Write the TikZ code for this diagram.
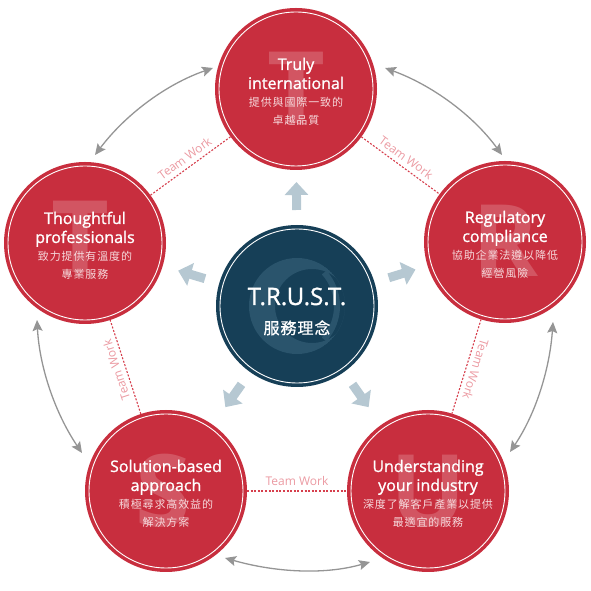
\documentclass[tikz,border=0pt]{standalone}
\usepackage{fontspec}
\setmainfont{Open Sans}
\newfontfamily\semib[FakeBold=1.2]{Open Sans}
\newfontfamily\cjk[LetterSpace=8]{Noto Sans CJK TC}
\newfontfamily\cjkhub[LetterSpace=6,FakeBold=0.8]{Noto Sans CJK TC}
\usetikzlibrary{arrows.meta,calc}
\definecolor{tred}{HTML}{C82E3E}
\definecolor{tblue}{HTML}{163F57}
\definecolor{logoblue}{HTML}{2A546C}
\definecolor{arrowblue}{HTML}{B6C8D2}
\definecolor{arrowgray}{HTML}{959595}
\definecolor{dashred}{HTML}{D63F4D}
\definecolor{pinklbl}{HTML}{EB9AA2}
\definecolor{cnwhite}{HTML}{F6D9DC}
\newcommand\bubbletext[5]{%
  \node[entext, anchor=base] (#1a) at ($(#1)+(0,19)$) {#2};
  \node[entext, anchor=base] (#1b) at ($(#1)+(0,0)$) {#3};
  \node[cntext, anchor=base] (#1c) at ($(#1)+(0,-18)$) {#4};
  \node[cntext, anchor=base] (#1d) at ($(#1)+(0,-36)$) {#5};
}
\begin{document}
\begin{tikzpicture}[x=1pt,y=1pt,
  bubble/.style={circle, fill=tred, minimum size=162pt, inner sep=0pt, outer sep=0pt},
  hubstyle/.style={circle, fill=tblue, minimum size=162pt, inner sep=0pt, outer sep=0pt},
  ringline/.style={draw=white, line width=0.9pt},
  entext/.style={text=white, font=\semib\fontsize{16}{18}\selectfont, inner sep=0pt},
  cntext/.style={text=cnwhite, font=\cjk\fontsize{11}{13}\selectfont, inner sep=0pt},
  watermark/.style={text=white, text opacity=0.19, font=\bfseries\fontsize{100}{100}\selectfont, inner sep=0pt},
  teamline/.style={draw=dashred, line width=1.1pt, dash pattern=on 2pt off 1.6pt},
  teamlabel/.style={text=pinklbl, font=\fontsize{12}{13}\selectfont, sloped, allow upside down, above, midway, inner sep=4.5pt},
  grayarrow/.style={draw=arrowgray, line width=1.3pt, {Stealth[length=11pt,width=10pt,inset=2pt]}-{Stealth[length=11pt,width=10pt,inset=2pt]}, looseness=0.87},
  bluearrow/.style={draw=arrowblue, line width=9pt, -{Triangle[length=13pt,width=23pt]}}
]
\useasboundingbox (0,0) rectangle (590,591);

% circles
\node[bubble] (nT) at (296,502) {};
\node[bubble] (nL) at (85,348) {};
\node[bubble] (nR) at (505,349) {};
\node[bubble] (nU) at (428,100) {};
\node[bubble] (nS) at (166,100) {};
\node[hubstyle] (hub) at (297,285) {};

\foreach \n in {nT,nL,nR,nU,nS,hub}{
  \draw[ringline] (\n) circle[radius=77];
}

% hub logo
\begin{scope}
  \clip (hub) circle[radius=48];
  \fill[logoblue, even odd rule] (hub) circle[radius=48] ($(hub)+(15,0)$) circle[radius=37];
\end{scope}
\draw[logoblue, line width=6pt] ($(hub)+(-10,0)+(-42:50)$) arc[start angle=-42, end angle=42, radius=50];

% watermark letters
\node[watermark] (wT) at ($(nT)+(0,1)$) {T};
\node[watermark] (wL) at ($(nL)+(-5,6)$) {T};
\node[watermark] (wR) at ($(nR)+(0,1)$) {R};
\node[watermark] (wU) at ($(nU)+(0,0)$) {U};
\node[watermark] (wS) at ($(nS)+(-3,0)$) {S};

% texts
\bubbletext{nT}{Truly}{international}{提供與國際一致的}{卓越品質}
\bubbletext{nL}{Thoughtful}{professionals}{致力提供有溫度的}{專業服務}
\bubbletext{nR}{Regulatory}{compliance}{協助企業法遵以降低}{經營風險}
\bubbletext{nU}{Understanding}{your industry}{深度了解客戶產業以提供}{最適宜的服務}
\bubbletext{nS}{Solution-based}{approach}{積極尋求高效益的}{解決方案}

\node[text=white, font=\semib\fontsize{24}{26}\selectfont, anchor=base, inner sep=0pt] (hubA) at ($(hub)+(0,1)$) {T.R.U.S.T.};
\node[text=white, font=\cjkhub\fontsize{16}{18}\selectfont, anchor=base, inner sep=0pt] (hubB) at ($(hub)+(0,-28)$) {服務理念};

% blue arrows from hub
\foreach \n in {nT,nL,nR,nU,nS}{
  \draw[bluearrow] ($(hub)!96pt!(\n)$) -- ($(hub)!124pt!(\n)$);
}

% team work lines
\draw[teamline] (nL) -- node[teamlabel] {Team Work} (nT);
\draw[teamline] (nT) -- node[teamlabel] {Team Work} (nR);
\draw[teamline] (nR) -- node[teamlabel] {Team Work} (nU);
\draw[teamline] (nS) -- node[teamlabel] {Team Work} (nU);
\draw[teamline] (nS) -- node[teamlabel] {Team Work} (nL);

% gray curved arrows
\coordinate (a1s) at ($(nT)+(-83,21)$);
\coordinate (a1e) at ($(nL)+(10,88)$);
\coordinate (a2s) at ($(nT)+(89,21)$);
\coordinate (a2e) at ($(nR)+(-3,87)$);
\coordinate (a3s) at ($(nR)+(48,-80)$);
\coordinate (a3e) at ($(nU)+(82,39)$);
\coordinate (a4s) at ($(nU)+(-58,-71)$);
\coordinate (a4e) at ($(nS)+(59,-67)$);
\coordinate (a5s) at ($(nS)+(-84,38)$);
\coordinate (a5e) at ($(nL)+(-48,-77)$);
\draw[grayarrow] (a1s) to[out=199, in=53] (a1e);
\draw[grayarrow] (a2s) to[out=-20, in=126] (a2e);
\draw[grayarrow] (a3s) to[out=-94, in=56] (a3e);
\draw[grayarrow] (a4s) to[out=196, in=-16] (a4e);
\draw[grayarrow] (a5s) to[out=124, in=-87] (a5e);
\end{tikzpicture}
\end{document}
